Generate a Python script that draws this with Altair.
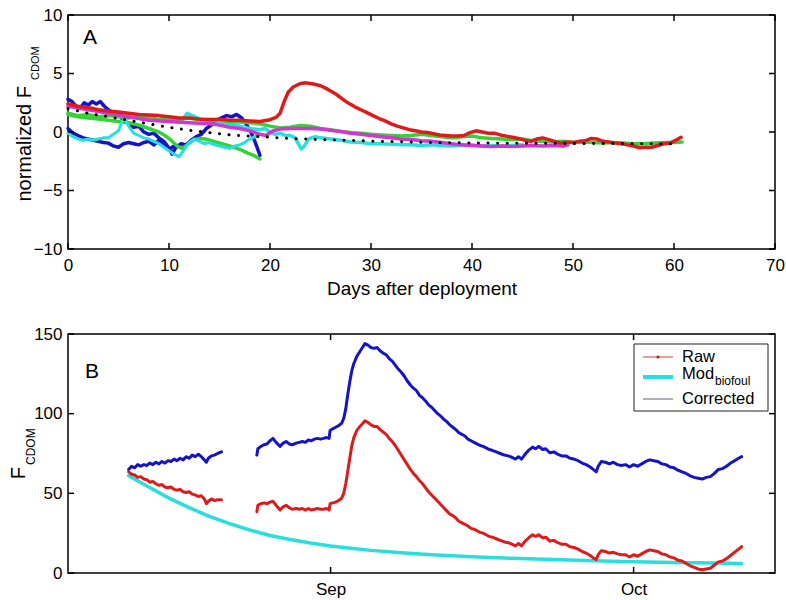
import altair as alt
import pandas as pd

FONT = "Liberation Sans"

# ---------------- Panel A : normalized F_CDOM vs days after deployment ----------------
a_xticks = [0, 10, 20, 30, 40, 50, 60, 70]
a_yticks = [-10, -5, 0, 5, 10]

a_blue1_day = [0, 0.4, 0.8, 1.2, 1.6, 2.0, 2.4, 2.8, 3.2, 3.6, 4.0, 4.5, 5.0, 5.5, 6.0, 6.5, 7.0, 7.5, 8.0, 8.5,
               9.0, 9.5, 10.0, 10.3, 10.7, 11.2, 11.7, 12.2, 12.7, 13.2, 13.7, 14.2, 14.7, 15.2, 15.7, 16.2, 16.7,
               17.2, 17.7, 18.1, 18.5, 18.8, 19.0]
a_blue1_val = [2.8, 2.6, 2.2, 2.0, 2.5, 2.3, 2.6, 2.4, 2.6, 2.2, 1.9, 1.6, 1.5, 1.0, 0.7, 0.4, 0.5, 0.0, -0.2, -0.1,
               -0.5, -0.8, -1.4, -1.9, -1.3, -1.0, -1.1, -0.7, -0.4, -0.2, 0.3, 0.6, 1.0, 1.2, 1.4, 1.3, 1.5,
               1.2, 0.6, 0.0, -0.8, -1.5, -2.0]

a_blue2_day = [0, 0.5, 1, 1.5, 2, 2.5, 3, 3.5, 4, 4.5, 5, 5.5, 6, 6.5, 7, 7.5, 8, 8.5, 9, 9.5, 10, 10.5]
a_blue2_val = [0.3, -0.1, -0.3, -0.5, -0.6, -0.7, -0.8, -0.9, -0.95, -1.2, -1.3, -1.0, -0.9, -1.0, -1.1, -0.9,
               -0.8, -1.1, -0.7, -1.0, -1.5, -1.2]

a_cyan1_day = [0, 0.5, 1, 1.5, 2, 2.5, 3, 3.5, 4, 4.5, 5, 5.3, 5.6, 6, 6.5, 7, 7.5, 8, 8.5, 9, 9.5, 10, 10.5, 11,
               11.5, 12, 12.5, 13, 13.5, 14, 14.5, 15, 15.5, 16, 16.5, 17, 17.5, 18, 18.5, 19]
a_cyan1_val = [-0.1, -0.4, -0.6, -0.7, -0.6, -0.7, -0.6, -0.5, -0.5, -0.2, 0.1, 0.8, 1.2, 0.5, -0.1, -0.3, -0.5,
               -0.6, -0.8, -1.0, -1.3, -1.6, -1.9, -2.1, -1.5, -0.9, -0.6, -0.8, -1.0, -0.9, -1.1, -1.2, -1.3,
               -1.4, -1.2, -1.1, -0.9, -0.6, -0.4, -0.2]

a_cyan2_day = [11.3, 11.8, 12.3, 12.8, 13.3, 14, 15, 16, 17, 18, 19, 19.5, 20, 20.5, 21, 21.5, 22, 22.5, 22.8,
               23.1, 23.4, 23.8, 24.5, 25, 26, 27, 28, 29, 30, 31, 32, 33, 34, 35, 36, 37, 38, 39, 40, 41, 42,
               43, 44, 45]
a_cyan2_val = [1.0, 1.6, 1.4, 1.2, 1.1, 1.0, 0.9, 0.7, 0.5, 0.3, 0.2, 0.3, 0.0, -0.2, -0.1, -0.3, -0.3, -0.5,
               -1.0, -1.45, -1.2, -0.6, -0.4, -0.5, -0.6, -0.7, -0.85, -0.9, -1.0, -1.0, -1.05, -1.1, -1.1,
               -1.15, -1.1, -1.15, -1.2, -1.15, -1.1, -1.2, -1.15, -1.2, -1.15, -1.1]

a_green1_day = [0, 1, 2, 3, 4, 5, 6, 7, 8, 9, 10, 11, 12, 13, 14, 15, 16, 17, 18, 19, 20, 21, 22, 23, 24, 25, 26,
                27, 28, 29, 30, 31, 32, 33, 34, 35, 36, 37, 38, 39, 40, 41, 42, 43, 44, 45, 46, 47, 48, 49, 50,
                51, 52, 53, 54, 55, 56, 57, 58, 59, 60, 60.8]
a_green1_val = [1.6, 1.4, 1.5, 1.3, 1.4, 1.3, 1.2, 1.3, 1.2, 1.1, 1.15, 1.1, 1.2, 1.05, 1.1, 1.0, 0.9, 0.85, 0.8,
                0.7, 0.5, 0.35, 0.4, 0.55, 0.5, 0.3, 0.2, 0.05, -0.05, -0.1, -0.2, -0.25, -0.3, -0.35, -0.3,
                -0.2, -0.3, -0.4, -0.5, -0.4, -0.35, -0.5, -0.55, -0.6, -0.65, -0.6, -0.75, -0.8, -0.85, -0.8,
                -0.9, -0.85, -0.9, -0.95, -0.9, -0.95, -1.0, -1.0, -0.95, -0.9, -0.9, -0.85]

a_green2_day = [0, 1, 2, 3, 4, 5, 6, 7, 8, 9, 9.6, 10.2, 10.8, 11.3, 11.8, 12.4, 13, 13.6, 14.2, 14.8, 15.4, 16,
                16.6, 17.2, 17.8, 18.4, 19]
a_green2_val = [1.5, 1.3, 1.2, 1.1, 1.0, 0.9, 0.8, 0.6, 0.3, 0.0, -0.3, -0.7, -1.2, -1.4, -1.1, -0.7, -0.55, -0.6,
                -0.75, -0.9, -1.05, -1.2, -1.35, -1.55, -1.8, -2.0, -2.3]

a_magenta_day = [0, 2, 4, 6, 8, 10, 12, 14, 15, 16, 17, 18, 19, 19.6, 20.3, 21, 22, 23, 24, 25, 26, 27, 28, 29,
                 30, 31, 32, 33, 34, 35, 36, 37, 38, 39, 40, 41, 42, 43, 44, 45, 46, 47, 48, 49, 49.5]
a_magenta_val = [2.2, 1.9, 1.6, 1.3, 1.0, 0.9, 0.8, 0.7, 0.6, 0.4, 0.3, 0.1, -0.2, -0.3, 0.1, 0.25, 0.3, 0.3, 0.3,
                 0.25, 0.15, 0.05, -0.1, -0.2, -0.3, -0.4, -0.5, -0.6, -0.65, -0.75, -0.8, -0.9, -1.0, -1.1,
                 -1.15, -1.2, -1.25, -1.2, -1.25, -1.2, -1.15, -1.2, -1.15, -1.2, -1.1]

a_red_day = [0, 1, 2, 3, 4, 5, 6, 7, 8, 9, 10, 11, 12, 13, 14, 15, 16, 17, 18, 19, 20, 20.6, 21, 21.4, 21.8, 22.3,
             23, 23.6, 24.3, 25, 25.5, 26, 26.6, 27.2, 27.8, 28.4, 29, 29.6, 30.2, 30.8, 31.4, 32, 32.6, 33.2,
             33.8, 34.4, 35, 35.6, 36.2, 36.8, 37.4, 38, 38.6, 39.2, 39.8, 40.4, 41, 41.6, 42.2, 42.8, 43.4, 44,
             44.6, 45.2, 45.8, 46.4, 47, 47.6, 48.2, 48.8, 49.4, 50, 50.6, 51.2, 51.8, 52.4, 53, 53.6, 54.2, 54.8,
             55.4, 56, 56.6, 57.2, 57.8, 58.4, 59, 59.6, 60.2, 60.7]
a_red_val = [2.4, 2.2, 2.1, 1.9, 1.8, 1.7, 1.6, 1.5, 1.45, 1.4, 1.3, 1.2, 1.2, 1.1, 1.05, 1.1, 1.0, 1.0, 0.95, 0.9,
             1.05, 1.25, 1.6, 2.6, 3.4, 3.85, 4.15, 4.2, 4.1, 3.95, 3.75, 3.5, 3.2, 2.8, 2.45, 2.15, 1.9, 1.65,
             1.4, 1.15, 0.95, 0.7, 0.5, 0.35, 0.2, 0.1, 0.0, -0.05, -0.15, -0.25, -0.3, -0.35, -0.35, -0.3, -0.05,
             0.1, 0.0, -0.1, -0.1, -0.25, -0.35, -0.45, -0.55, -0.7, -0.8, -0.6, -0.5, -0.65, -0.8, -0.95, -0.85,
             -0.9, -0.8, -0.75, -0.55, -0.6, -0.8, -0.85, -0.95, -1.0, -1.1, -1.2, -1.35, -1.3, -1.3, -1.15, -1.0,
             -0.95, -0.7, -0.45]

a_dot_day = [0, 2, 4, 6, 8, 10, 12, 14, 16, 18, 20, 22, 24, 26, 28, 30, 32, 34, 36, 38, 40, 42, 44, 46, 48, 50,
             52, 54, 56, 58, 60, 60.5]
a_dot_val = [2.0, 1.6, 1.3, 1.0, 0.7, 0.4, 0.15, -0.05, -0.25, -0.35, -0.45, -0.55, -0.62, -0.68, -0.72, -0.78,
             -0.82, -0.86, -0.9, -0.92, -0.94, -0.95, -0.96, -0.97, -0.97, -0.98, -0.98, -0.99, -0.99, -1.0, -1.0,
             -1.0]

# ---------------- Panel B : F_CDOM, days counted from 6 Aug ----------------
b_month_ticks = [26, 56]
b_month_names = ["Sep", "Oct"]
b_yticks = [0, 50, 100, 150]

b_corr1_day = [6.0, 6.3, 6.6, 6.9, 7.2, 7.5, 7.8, 8.1, 8.4, 8.7, 9.0, 9.3, 9.6, 9.9, 10.2, 10.5, 10.8, 11.1, 11.4,
               11.7, 12.0, 12.3, 12.6, 12.9, 13.2, 13.5, 13.7, 13.9, 14.2, 14.5, 14.8, 15.2]
b_corr1_val = [65, 67, 66, 68, 67, 68, 67.5, 69, 68, 69.5, 68.5, 70, 69, 70.5, 70, 71.5, 70.5, 72, 71, 73, 72, 74,
               73, 74.5, 73, 71, 69.5, 72, 73.5, 74, 75, 76]
b_raw1_val = [63.5, 62, 61.5, 60, 60.5, 59, 58.5, 57, 57.5, 56, 55, 55.5, 54, 53.5, 54, 52.5, 52, 52.5, 51, 50.5,
              51, 49.5, 49, 48, 48.5, 46.5, 43.5, 45, 46.5, 45.5, 46, 46]

b_corr2_day = [18.7, 18.8, 19.1, 19.4, 19.7, 20.0, 20.3, 20.6, 21.0, 21.3, 21.6, 21.9, 22.2, 22.6, 22.9, 23.2,
               23.5, 23.8, 24.1, 24.4, 24.7, 25.0, 25.3, 25.6, 25.85, 25.95, 26.2, 26.5, 26.8, 27.1, 27.3, 27.5,
               27.7, 27.9, 28.1, 28.3, 28.6, 28.9, 29.2, 29.4, 29.7, 30.0, 30.3, 30.6, 30.9, 31.2, 31.5, 31.8,
               32.1, 32.4, 32.7, 33.0, 33.3, 33.6, 33.9, 34.2, 34.5, 34.8, 35.1, 35.4, 35.7, 36.0, 36.3, 36.6,
               36.9, 37.2, 37.5, 37.8, 38.1, 38.4, 38.7, 39.0, 39.3, 39.6, 39.9, 40.2, 40.5, 40.8, 41.1, 41.4,
               41.7, 42.0, 42.4, 42.8, 43.2, 43.6, 44.0, 44.3, 44.6, 44.9, 45.2, 45.6, 46.0, 46.3, 46.6, 47.0,
               47.3, 47.7, 48.1, 48.5, 48.9, 49.3, 49.7, 50.1, 50.5, 50.9, 51.3, 51.7, 52.0, 52.3, 52.5, 52.8,
               53.2, 53.6, 54.0, 54.4, 54.8, 55.2, 55.6, 56.0, 56.4, 56.8, 57.2, 57.6, 58.0, 58.4, 58.8, 59.2,
               59.6, 60.0, 60.4, 60.8, 61.2, 61.6, 62.0, 62.4, 62.8, 63.2, 63.6, 64.0, 64.4, 64.8, 65.2, 65.6,
               66.0, 66.4, 66.7]
b_corr2_val = [74, 78, 79.5, 80.5, 81, 83, 84.5, 82, 79.5, 81.5, 82.5, 81, 80.5, 81.5, 82, 82.5, 82, 83.5, 83, 84,
               84.5, 84, 84.5, 85, 84.5, 89.5, 90.5, 91.5, 92.5, 94, 97, 103, 112, 120, 127, 131.5, 136, 139, 142,
               144, 143, 141.5, 141, 141.5, 139.5, 138, 137, 134.5, 133, 130.5, 128, 126, 123.5, 120.5, 118, 116,
               114.5, 111.5, 110, 108, 105.5, 104, 102, 100, 98.5, 96.5, 95, 93, 91.5, 90, 88, 87, 86, 84, 83,
               82, 81, 80, 79.5, 78.5, 77.5, 77, 76, 75, 74, 73.5, 72.5, 71.5, 73, 71.5, 74, 77, 79, 78, 79.5,
               77.5, 78, 75.5, 76, 74.5, 73.5, 73.5, 72, 71.5, 70.5, 69, 68, 66.5, 65, 63.5, 67, 70, 69.5, 68.5,
               69.5, 68, 67.5, 68, 66.5, 68, 67, 68.5, 70, 71, 70.5, 70, 68.5, 68, 66.5, 66, 64.5, 63.5, 62.5,
               61, 60, 59.5, 59, 60, 60.5, 62.5, 65, 65.5, 67, 69, 70.5, 72, 73]
b_raw2_val = [38.5, 42.5, 43.5, 44, 43.5, 44.5, 45, 42.5, 39.5, 41.5, 42.5, 41, 40, 40.5, 40, 40.5, 39.5, 40.5,
              39.5, 40, 40.5, 40, 40, 40.5, 39.5, 43.5, 44, 44.5, 45.5, 47, 50, 56, 64, 72, 80, 85, 89.5, 92, 94,
              95.5, 94.5, 93, 92, 92, 90, 88.5, 87, 84.5, 82.5, 80, 77, 74, 71, 68, 65, 62.5, 60.5, 58, 56, 53.5,
              51, 49, 47, 45, 43, 41, 39, 37, 36, 34.5, 32.5, 31.5, 30.5, 29.5, 28, 27.5, 26.5, 25.5, 25, 24, 23,
              22.5, 21.5, 20.5, 19.5, 19, 18, 17, 18.5, 17, 19.5, 22, 24, 23, 24, 22, 22.5, 20, 20.5, 19, 18, 18,
              16.5, 16, 15, 13.5, 12.5, 11, 9.5, 8.5, 11.5, 14, 13.5, 12.5, 13, 12, 11.5, 11.5, 10, 11.5, 10.5,
              12, 13.5, 14.5, 14, 13.5, 12, 11.5, 10, 9.5, 8, 7.5, 6, 4.5, 3.5, 2.5, 2, 2.5, 3, 5, 7, 7.5, 9, 11,
              13, 15, 16.5]

b_model_day = [6, 8, 10, 12, 14, 16, 18, 20, 22, 24, 26, 28, 30, 33, 36, 40, 44, 48, 52, 56, 60, 64, 66.7]
b_model_val = [61, 54, 47, 41, 35.5, 31, 27, 23.5, 21, 18.8, 17, 15.5, 14.2, 12.7, 11.5, 10.2, 9.2, 8.4, 7.7, 7.1,
               6.6, 6.2, 6.0]

legend_labels = ["Raw", "Mod", "Corrected"]

# ---------------- colours ----------------
BLUE = "#1414c4"
RED = "#de1b1b"
GREEN = "#34d234"
CYAN = "#2adede"
MAGENTA = "#d235d2"

WA, HA = 707, 234
WB, HB = 707, 239

one = pd.DataFrame({"k": [0]})


def df(days, vals):
    return pd.DataFrame({"x": days, "y": vals})


def text_layer(txt, x, y, size, align="center", baseline="middle", angle=0):
    kw = dict(text=txt, fontSize=size, font=FONT, align=align, baseline=baseline, color="black")
    if angle:
        kw["angle"] = angle
    return alt.Chart(one).mark_text(**kw).encode(x=alt.value(x), y=alt.value(y))


# ---------------- Panel A ----------------
axAx = alt.Axis(values=a_xticks, ticks=False, domain=False, grid=False, labelFontSize=17, labelPadding=8,
                labelFlush=False, labelOverlap=False, labelColor="black", labelFont=FONT,
                title="Days after deployment", titleFontSize=19, titleFontWeight="normal", titlePadding=6,
                titleColor="black", titleFont=FONT)
axAy = alt.Axis(values=a_yticks, ticks=False, domain=False, grid=False, labelFontSize=17, labelPadding=6,
                labelFlush=False, labelOverlap=False, labelColor="black", labelFont=FONT, title=None)
xA = alt.X("x:Q", scale=alt.Scale(domain=[0, 70], nice=False, zero=False), axis=axAx)
yA = alt.Y("y:Q", scale=alt.Scale(domain=[-10, 10], nice=False, zero=False), axis=axAy)


def lineA(days, vals, color, width=3.5, dash=None):
    kw = dict(color=color, strokeWidth=width, strokeJoin="round", strokeCap="round")
    if dash:
        kw["strokeDash"] = dash
    return alt.Chart(df(days, vals)).mark_line(**kw).encode(x=xA, y=yA)


ticksAx = pd.DataFrame({"x": a_xticks})
ticksAy = pd.DataFrame({"y": a_yticks})
rule_kw = dict(color="black", strokeWidth=1.5)

panelA = alt.layer(
    lineA(a_blue2_day, a_blue2_val, BLUE),
    lineA(a_blue1_day, a_blue1_val, BLUE),
    lineA(a_green2_day, a_green2_val, GREEN),
    lineA(a_cyan1_day, a_cyan1_val, CYAN, 3),
    lineA(a_cyan2_day, a_cyan2_val, CYAN),
    lineA(a_green1_day, a_green1_val, GREEN),
    lineA(a_magenta_day, a_magenta_val, MAGENTA),
    lineA(a_red_day, a_red_val, RED),
    lineA(a_dot_day, a_dot_val, "black", 3, [0.1, 9.5]),
    alt.Chart(ticksAx).mark_rule(**rule_kw).encode(x=xA, y=alt.value(HA), y2=alt.value(HA - 6)),
    alt.Chart(ticksAx).mark_rule(**rule_kw).encode(x=xA, y=alt.value(0), y2=alt.value(6)),
    alt.Chart(ticksAy).mark_rule(**rule_kw).encode(y=yA, x=alt.value(0), x2=alt.value(6)),
    alt.Chart(ticksAy).mark_rule(**rule_kw).encode(y=yA, x=alt.value(WA - 6), x2=alt.value(WA)),
    text_layer("A", 22, 23, 21),
    text_layer("normalized F", -37, 71, 20, align="right", baseline="alphabetic", angle=270),
    text_layer("CDOM", -29, 65, 11, align="left", baseline="alphabetic", angle=270),
).properties(width=WA, height=HA)

# ---------------- Panel B ----------------
label_expr = " : ".join(
    f"datum.value == {v} ? '{n}'" for v, n in zip(b_month_ticks[:-1], b_month_names[:-1])
) + f" : '{b_month_names[-1]}'"
axBx = alt.Axis(values=b_month_ticks, labelExpr=label_expr, ticks=False, domain=False, grid=False,
                labelFontSize=17, labelPadding=8, labelFlush=False, labelOverlap=False, labelColor="black",
                labelFont=FONT, title=None)
axBy = alt.Axis(values=b_yticks, ticks=False, domain=False, grid=False, labelFontSize=17, labelPadding=6,
                labelFlush=False, labelOverlap=False, labelColor="black", labelFont=FONT, title=None)
xB = alt.X("x:Q", scale=alt.Scale(domain=[0, 70], nice=False, zero=False), axis=axBx)
yB = alt.Y("y:Q", scale=alt.Scale(domain=[0, 150], nice=False, zero=False), axis=axBy)


def lineB(days, vals, color, width=3):
    return alt.Chart(df(days, vals)).mark_line(color=color, strokeWidth=width, strokeJoin="round",
                                               strokeCap="round").encode(x=xB, y=yB)


ticksBx = pd.DataFrame({"x": b_month_ticks})
ticksBy = pd.DataFrame({"y": b_yticks})

LX1, LX2, LT = 575, 605, 614

panelB = alt.layer(
    lineB(b_model_day, b_model_val, CYAN, 3.5),
    lineB(b_corr1_day, b_corr1_val, BLUE),
    lineB(b_corr2_day, b_corr2_val, BLUE),
    lineB(b_corr1_day, b_raw1_val, RED),
    lineB(b_corr2_day, b_raw2_val, RED),
    alt.Chart(ticksBx).mark_rule(**rule_kw).encode(x=xB, y=alt.value(HB), y2=alt.value(HB - 6)),
    alt.Chart(ticksBx).mark_rule(**rule_kw).encode(x=xB, y=alt.value(0), y2=alt.value(6)),
    alt.Chart(ticksBy).mark_rule(**rule_kw).encode(y=yB, x=alt.value(0), x2=alt.value(6)),
    alt.Chart(ticksBy).mark_rule(**rule_kw).encode(y=yB, x=alt.value(WB - 6), x2=alt.value(WB)),
    # legend box
    alt.Chart(one).mark_rect(fill="white", stroke="#222222", strokeWidth=1).encode(
        x=alt.value(566), x2=alt.value(700), y=alt.value(10), y2=alt.value(77)),
    alt.Chart(one).mark_rule(color="#d23c3c", strokeWidth=1).encode(
        x=alt.value(LX1), x2=alt.value(LX2), y=alt.value(23)),
    alt.Chart(one).mark_point(filled=True, color="#c02020", size=10, opacity=1).encode(
        x=alt.value((LX1 + LX2) / 2), y=alt.value(23)),
    alt.Chart(one).mark_rule(color=CYAN, strokeWidth=4).encode(
        x=alt.value(LX1), x2=alt.value(LX2), y=alt.value(43)),
    alt.Chart(one).mark_rule(color="#7c7c96", strokeWidth=1.2).encode(
        x=alt.value(LX1), x2=alt.value(LX2), y=alt.value(65)),
    text_layer(legend_labels[0], LT, 23, 16.5, align="left"),
    text_layer(legend_labels[1], LT, 40, 16.5, align="left"),
    text_layer("biofoul", LT + 33, 47, 12, align="left"),
    text_layer(legend_labels[2], LT, 65, 16.5, align="left"),
    text_layer("B", 24, 38, 21),
    text_layer("F", -43, 133, 20, align="right", baseline="alphabetic", angle=270),
    text_layer("CDOM", -33, 131, 12, align="left", baseline="alphabetic", angle=270),
).properties(width=WB, height=HB)

chart = alt.vconcat(panelA, panelB, spacing=25).properties(
    padding={"left": 8, "top": 5, "right": 0, "bottom": 0}
).configure(font=FONT).configure_view(stroke="black", strokeWidth=1.5)

chart.save("out.html", embed_options={"renderer": "svg", "actions": False})
